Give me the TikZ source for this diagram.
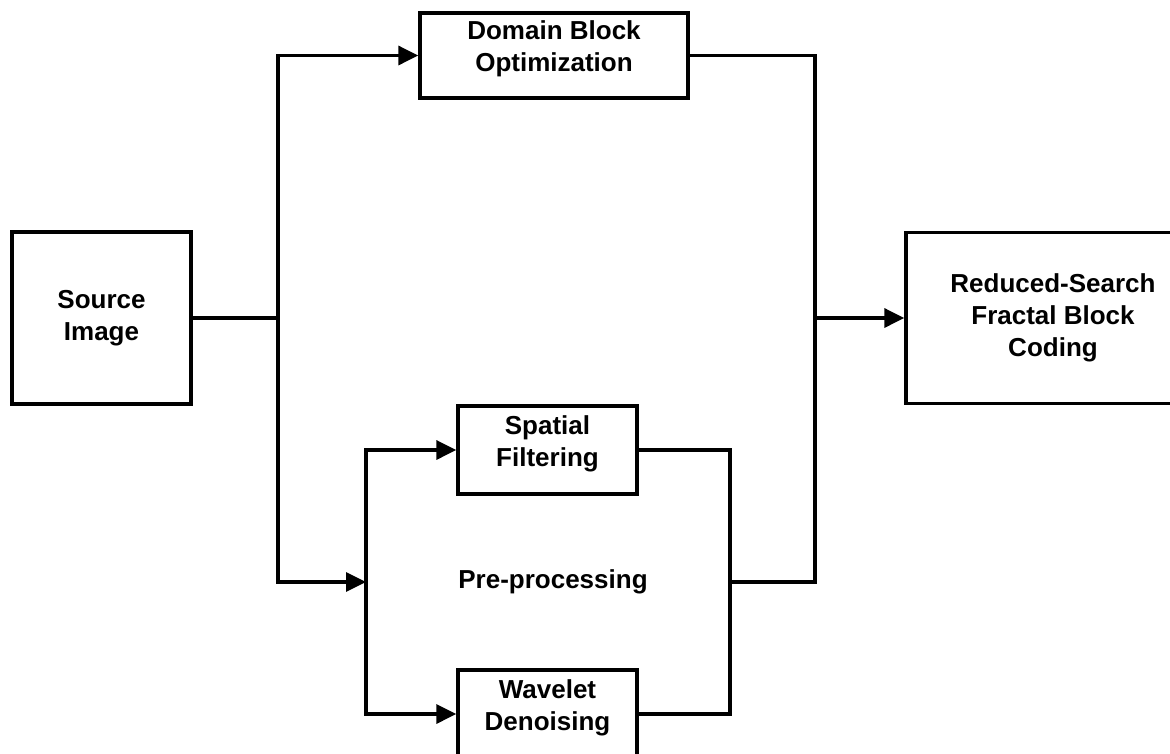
\documentclass[tikz,border=0pt]{standalone}
\usepackage{fontspec}
\setmainfont{Liberation Sans}
\usetikzlibrary{arrows.meta}
\begin{document}
\begin{tikzpicture}[x=1pt,y=-1pt,
  txt/.style={font=\fontsize{26}{32}\selectfont\bfseries, align=center},
  box/.style={draw=black, line width=3.4pt, inner sep=0pt, txt},
  wire/.style={line width=3.4pt},
  arr/.style={wire, -{Triangle[length=20pt,width=19pt]}}]
\useasboundingbox (0,0) rectangle (1170,753);
% boxes
\node[box, minimum width=179pt, minimum height=172pt] (src) at (101.5,318) {Source\\Image};
\node[box, minimum width=268pt, minimum height=85pt] (dom) at (554,55.5) {};
\node[txt] (domT) at ([yshift=7pt]dom.center) {Domain Block\\Optimization};
\node[box, minimum width=294pt, minimum height=171pt] (red) at (1053,318) {Reduced-Search\\Fractal Block\\Coding};
\node[box, minimum width=179pt, minimum height=88pt] (spa) at (547.5,450) {};
\node[txt] (spaT) at ([yshift=6pt]spa.center) {Spatial\\Filtering};
\node[box, minimum width=179pt, minimum height=88pt] (wav) at (547.5,714) {};
\node[txt] (wavT) at ([yshift=6pt]wav.center) {Wavelet\\Denoising};
\node[txt] (pre) at (553,582) {Pre-processing};
% junction coordinates
\coordinate (jA) at (278,318);
\coordinate (jTop) at (278,55.5);
\coordinate (jBot) at (278,582);
\coordinate (lIn) at (366,582);
\coordinate (lTop) at (366,450);
\coordinate (lBot) at (366,714);
\coordinate (rTop) at (730,450);
\coordinate (rBot) at (730,714);
\coordinate (rOut) at (730,582);
\coordinate (oTop) at (815,55.5);
\coordinate (oMid) at (815,318);
\coordinate (oBot) at (815,582);
% connectors
\draw[wire] (src.east) -- (jA);
\draw[wire, line cap=rect] (jTop) -- (jBot);
\draw[arr] (jTop) -- (dom.west);
\draw[arr] (jBot) -- (lIn);
\draw[wire, line cap=rect] (lTop) -- (lBot);
\draw[arr] (lTop) -- (spa.west);
\draw[arr] (lBot) -- (wav.west);
\draw[wire] (spa.east) -- (rTop) -- (rBot) -- (wav.east);
\draw[wire] (dom.east) -- (oTop) -- (oBot) -- (rOut);
\draw[arr] (oMid) -- (red.west);
\end{tikzpicture}
\end{document}
